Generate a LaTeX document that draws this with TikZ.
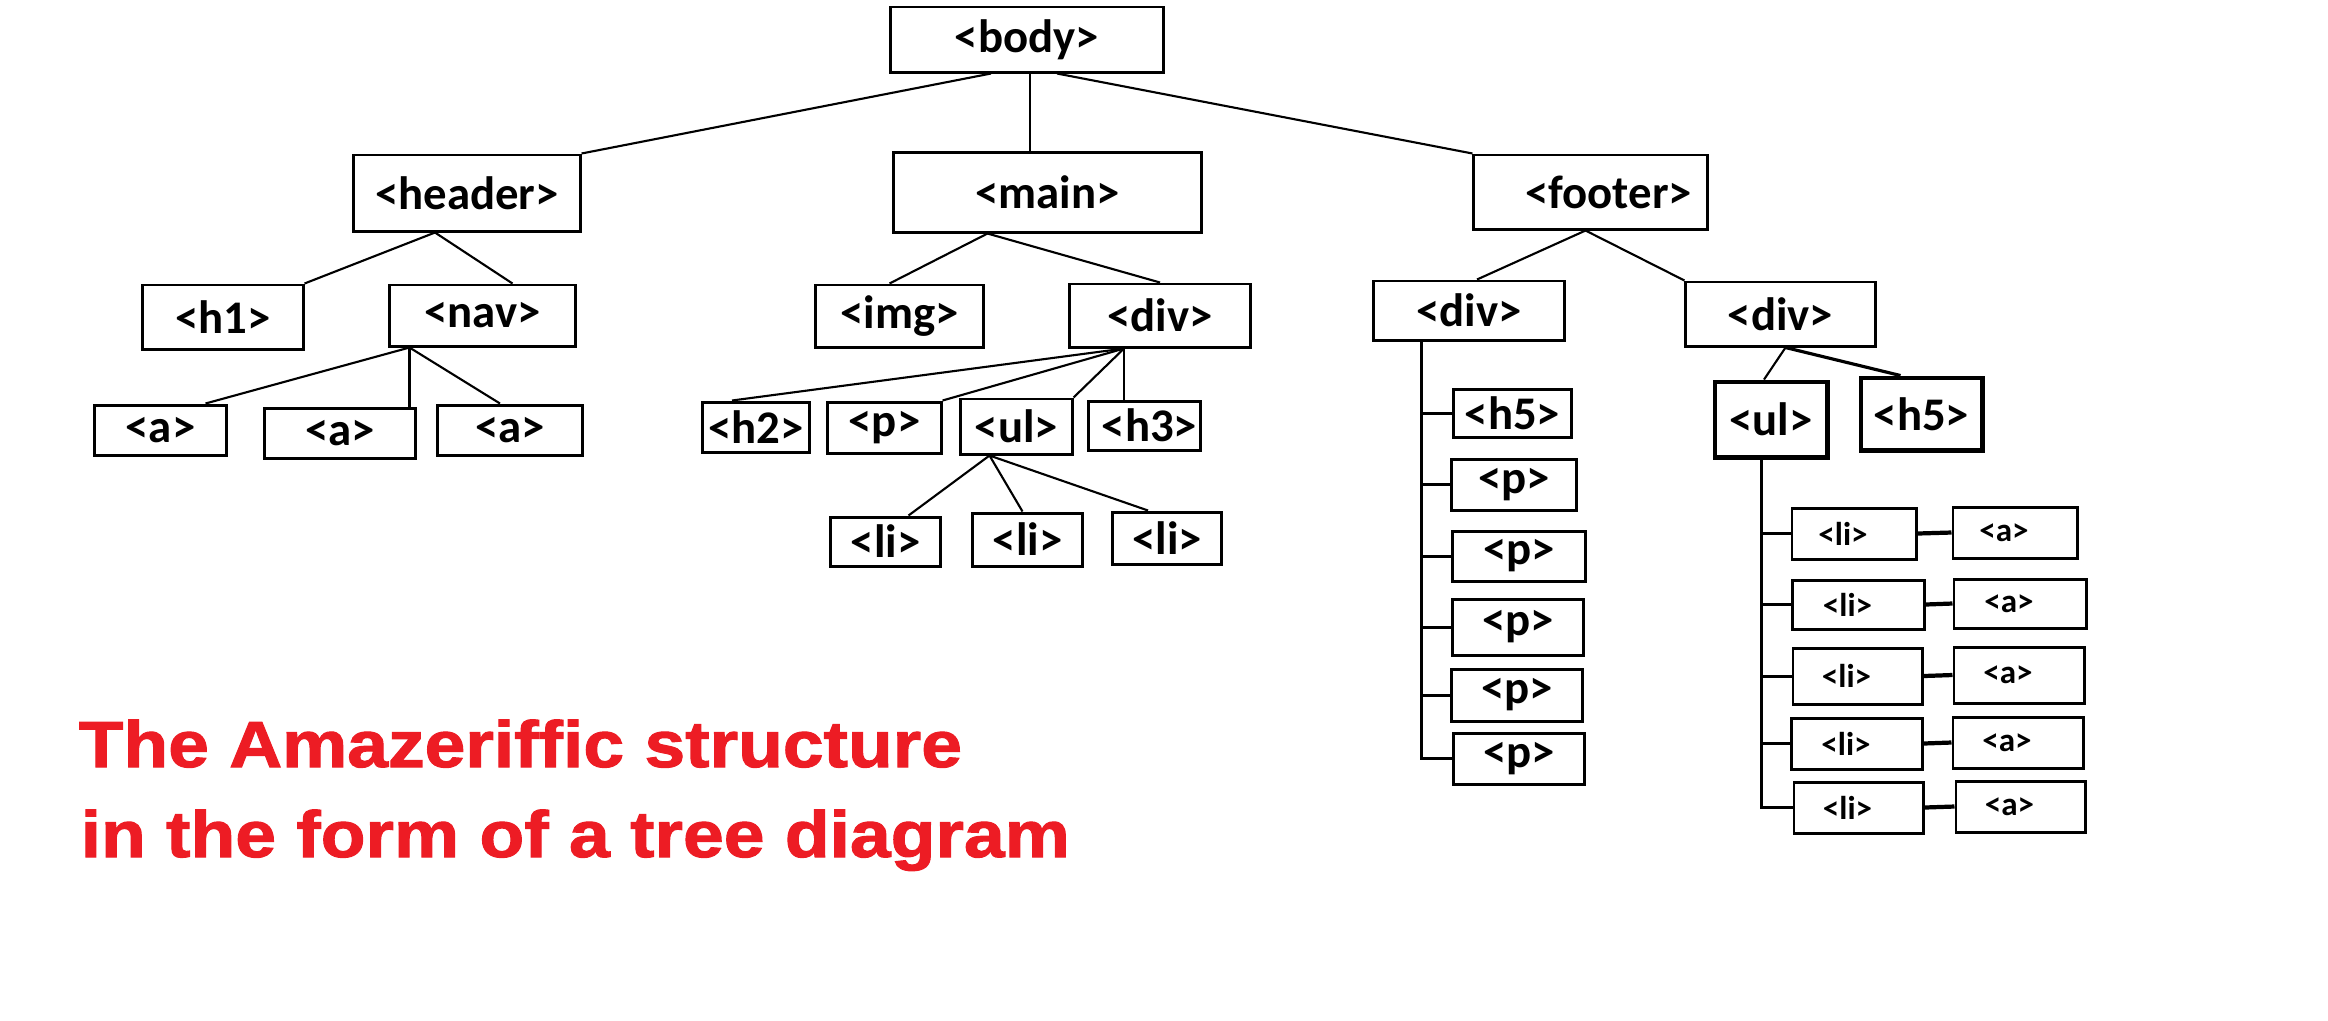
\documentclass[tikz,border=0pt]{standalone}
\usepackage{fontspec}
\setmainfont{Carlito}
\newfontfamily\titlefont[FakeStretch=1.12,FakeBold=1.6]{Liberation Sans}
\usepackage{xcolor}
\usepackage{tikz}
\definecolor{tred}{RGB}{237,28,36}
\usetikzlibrary{calc,positioning}

\tikzset{
  tagbox/.style={draw, line width=0.85pt, inner sep=0pt, font=\fontsize{13.3pt}{16pt}\selectfont\bfseries},
  rowtag/.style={tagbox, font=\fontsize{9.4pt}{11pt}\selectfont\bfseries, execute at end node={\hspace{0.22cm}}},
  wire/.style={line width=0.6pt},
  heavy/.style={line width=1.4pt}
}

\begin{document}
\begin{tikzpicture}[x=0.01cm,y=-0.01cm]
\useasboundingbox (0,0) rectangle (2328,1020);
%\draw[step=100,gray,very thin] (0,0) grid (2328,1020);

% top levels
\node[tagbox, minimum width=2.72cm, minimum height=0.65cm] (body) at (1027,39.5) {<body>\hspace{0.26cm}};
\node[tagbox, minimum width=2.26cm, minimum height=0.76cm] (header) at (467,193) {<header>};
\node[tagbox, minimum width=3.07cm, minimum height=0.79cm] (main) at (1047.5,192.5) {<main>\hspace{0.26cm}};
\node[tagbox, minimum width=2.33cm, minimum height=0.74cm] (footer) at (1590.5,192) {\hspace{0.36cm}<footer>};

\node[tagbox, minimum width=1.60cm, minimum height=0.64cm] (h1) at (223,317) {<h1>\hspace{0.2cm}};
\node[tagbox, minimum width=1.85cm, minimum height=0.61cm] (nav) at (482.5,315.5) {<nav>\hspace{0.28cm}};
\node[tagbox, minimum width=1.67cm, minimum height=0.62cm] (img) at (899.5,316) {<img>};
\node[tagbox, minimum width=1.80cm, minimum height=0.63cm] (div) at (1160,315.5) {<div>\hspace{0.36cm}};
\node[tagbox, minimum width=1.90cm, minimum height=0.59cm] (fdivl) at (1469,310.5) {<div>\hspace{0.54cm}};
\node[tagbox, minimum width=1.89cm, minimum height=0.64cm] (fdivr) at (1780.5,314) {<div>\hspace{0.28cm}};

% header side
\node[tagbox, minimum width=1.31cm, minimum height=0.50cm] (a1) at (160.5,430) {<a>\hspace{0.16cm}};
\node[tagbox, minimum width=1.50cm, minimum height=0.50cm] (a2) at (340,433) {<a>\hspace{0.36cm}};
\node[tagbox, minimum width=1.44cm, minimum height=0.50cm] (a3) at (510,430) {<a>\hspace{0.36cm}};

% main side
\node[tagbox, minimum width=1.06cm, minimum height=0.50cm] (h2) at (756,427) {<h2>};
\node[tagbox, minimum width=1.13cm, minimum height=0.51cm] (p) at (884.5,427.5) {<p>\hspace{0.2cm}};
\node[tagbox, minimum width=1.11cm, minimum height=0.55cm] (ul) at (1016.5,426.5) {<ul>};
\node[tagbox, minimum width=1.11cm, minimum height=0.49cm] (h3) at (1144.5,425.5) {\hspace{0.1cm}<h3>};
\node[tagbox, minimum width=1.09cm, minimum height=0.49cm] (li1) at (885.5,541.5) {<li>};
\node[tagbox, minimum width=1.09cm, minimum height=0.53cm] (li2) at (1027.5,539.5) {<li>};
\node[tagbox, minimum width=1.08cm, minimum height=0.52cm] (li3) at (1167,538) {<li>};

% footer, left div
\node[tagbox, minimum width=1.17cm, minimum height=0.48cm] (fh5) at (1512.5,413) {<h5>};
\node[tagbox, minimum width=1.24cm, minimum height=0.51cm] (fp1) at (1514,484.5) {<p>\hspace{0.34cm}};
\node[tagbox, minimum width=1.32cm, minimum height=0.50cm] (fp2) at (1519,556) {<p>\hspace{0.3cm}};
\node[tagbox, minimum width=1.30cm, minimum height=0.56cm] (fp3) at (1518,627) {<p>\hspace{0.3cm}};
\node[tagbox, minimum width=1.30cm, minimum height=0.52cm] (fp4) at (1517,695) {<p>};
\node[tagbox, minimum width=1.30cm, minimum height=0.51cm] (fp5) at (1519,758.5) {<p>};

% footer, right div
\node[tagbox, heavy, minimum width=1.12cm, minimum height=0.75cm] (ful) at (1771,419.5) {<ul>};
\node[tagbox, heavy, minimum width=1.21cm, minimum height=0.72cm] (fh5b) at (1921.5,414) {<h5>};

\node[rowtag, minimum width=1.24cm, minimum height=0.51cm] (fli1) at (1854,533.5) {<li>};
\node[rowtag, minimum width=1.31cm, minimum height=0.49cm] (fli2) at (1858.5,604.5) {<li>};
\node[rowtag, minimum width=1.29cm, minimum height=0.56cm] (fli3) at (1857.5,676) {<li>};
\node[rowtag, minimum width=1.30cm, minimum height=0.51cm] (fli4) at (1857,743.5) {<li>};
\node[rowtag, minimum width=1.29cm, minimum height=0.51cm] (fli5) at (1858.5,807.5) {<li>};
\node[rowtag, minimum width=1.24cm, minimum height=0.51cm] (fa1) at (2015,532.5) {<a>};
\node[rowtag, minimum width=1.32cm, minimum height=0.49cm] (fa2) at (2020,603.5) {<a>};
\node[rowtag, minimum width=1.30cm, minimum height=0.56cm] (fa3) at (2019,675) {<a>};
\node[rowtag, minimum width=1.30cm, minimum height=0.51cm] (fa4) at (2018,742.5) {<a>};
\node[rowtag, minimum width=1.29cm, minimum height=0.51cm] (fa5) at (2020.5,806.5) {<a>};

% connectors
\draw[wire] ($(body.south)+(-36,0)$) -- (header.north east);
\draw[wire] ($(body.south)+(3,0)$) -- ($(body.south |- main.north)+(3,0)$);
\draw[wire] ($(body.south)+(30,0)$) -- (footer.north west);

\draw[wire] ($(header.south)+(-32,0)$) -- (h1.north east);
\draw[wire] ($(header.south)+(-32,0)$) -- ($(nav.north)+(30,0)$);
\draw[wire] ($(main.south)+(-60,0)$) -- ($(img.north)+(-10,0)$);
\draw[wire] ($(main.south)+(-60,0)$) -- (div.north);
\draw[wire] ($(footer.south)+(-5,0)$) -- ($(fdivl.north)+(8,0)$);
\draw[wire] ($(footer.south)+(-5,0)$) -- (fdivr.north west);

\coordinate (navfan) at ($(nav.south)+(-73,0)$);
\draw[wire] (navfan) -- ($(a1.north)+(45,0)$);
\draw[wire] (navfan) -- (navfan |- a2.north);
\draw[wire] (navfan) -- ($(a3.north)+(-10,0)$);

\coordinate (divfan) at ($(div.south)+(-36,0)$);
\draw[wire] (divfan) -- ($(h2.north)+(-24,0)$);
\draw[wire] (divfan) -- (p.north east);
\draw[wire] (divfan) -- (ul.north east);
\draw[wire] (divfan) -- (divfan |- h3.north);

\coordinate (ulfan) at ($(ul.south)+(-27,0)$);
\draw[wire] (ulfan) -- ($(li1.north)+(23,0)$);
\draw[wire] (ulfan) -- ($(li2.north)+(-5,0)$);
\draw[wire] (ulfan) -- ($(li3.north)+(-19,0)$);

% left footer spine
\coordinate (lspine) at ($(fdivl.south)+(-48,0)$);
\draw[line width=0.85pt] (lspine) |- (fp5.west);
\foreach \n in {fh5,fp1,fp2,fp3,fp4}
  \draw[line width=0.85pt] (lspine |- \n.west) -- (\n.west);

% right footer spine
\coordinate (rfan) at ($(fdivr.south)+(5,0)$);
\draw[wire] (rfan) -- ($(ful.north)+(-7,0)$);
\draw[line width=0.9pt] (rfan) -- ($(fh5b.north)+(-21,0)$);
\coordinate (rspine) at ($(ful.south)+(-10,0)$);
\draw[line width=0.85pt] (rspine) |- (fli5.west);
\foreach \i in {1,...,4}
  \draw[line width=0.85pt] (rspine |- fli\i.west) -- (fli\i.west);
\foreach \i in {1,...,5}
  \draw[line width=1.2pt] (fli\i.east) -- (fa\i.west);

% caption
\node[anchor=base west, inner sep=0pt, text=tred, font=\titlefont\fontsize{18.6pt}{20pt}\selectfont\bfseries] (title1) at (78,767) {The Amazeriffic structure};
\node[anchor=base west, inner sep=0pt, text=tred, font=\titlefont\fontsize{18.6pt}{20pt}\selectfont\bfseries] (title2) at (80,857) {in the form of a tree diagram};
\end{tikzpicture}
\end{document}
